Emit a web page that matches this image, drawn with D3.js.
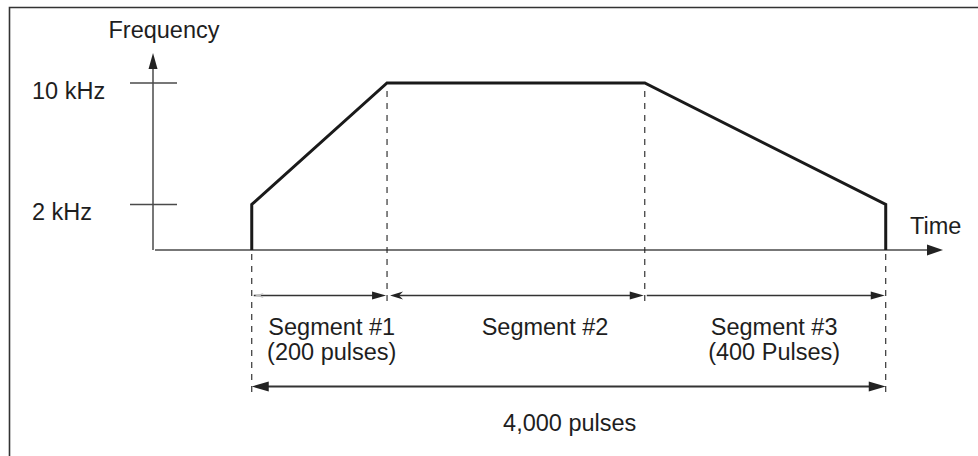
<!DOCTYPE html>
<html>
<head>
<meta charset="utf-8">
<script src="https://cdn.jsdelivr.net/npm/d3@7"></script>
<style>
  html, body { margin: 0; padding: 0; background: #fff; }
  svg { display: block; }
  text { font-family: "Liberation Sans", Arial, Helvetica, sans-serif; fill: #1e1e1e; }
</style>
</head>
<body>
<svg id="chart" width="978" height="456"></svg>
<script>
// Trapezoidal speed profile: breakpoints on the time axis (schematic units) and output frequency (kHz)
const profileTimes = [1.0, 2.37, 4.98, 7.42];
const profileFreqs = [2, 10, 10, 2];

// Frequency axis ticks
const freqTicks = [2, 10];
const freqTickLabels = ["2 kHz", "10 kHz"];

// Segments of the move
const segmentNames = ["Segment #1", "Segment #2", "Segment #3"];
const segmentNotes = ["(200 pulses)", "", "(400 Pulses)"];
const segmentStart = [1.0, 2.37, 4.98];
const segmentEnd = [2.37, 4.98, 7.42];
const segmentLabelAt = [1.81, 3.97, 6.29];

// Whole move
const totalLabel = "4,000 pulses";
const totalLabelAt = 4.22;

const svg = d3.select("#chart");
const ink = "#222";
const axisInk = "#4a4a4a";
const fontSize = 23.5;

// Frame
svg.append("path")
  .attr("d", "M9.5,470 V7.5 H990")
  .attr("fill", "none").attr("stroke", "#333").attr("stroke-width", 1.6);

// Scales: time runs left to right; the frequency axis is schematic (break between 0 and 2 kHz)
const x = d3.scaleLinear().domain([0, 8]).range([153, 943]);
const y = d3.scaleLinear().domain([0, 2, 10]).range([250, 204.5, 83]);

const yAxisTip = 53;
const segArrowY = 295.5;
const totalArrowY = 386.5;

// Filled arrowhead helper: tip at (tx, ty), pointing in direction dir (+1 right, -1 left, "up")
function head(tx, ty, dir, len, hw, notch = 0) {
  if (dir === "up") {
    return `M${tx},${ty} L${tx - hw},${ty + len} L${tx},${ty + len - notch} L${tx + hw},${ty + len} Z`;
  }
  const bx = tx - dir * len;
  const nx = tx - dir * (len - notch);
  return `M${tx},${ty} L${bx},${ty - hw} L${nx},${ty} L${bx},${ty + hw} Z`;
}

// Axes
const axes = svg.append("g").attr("stroke", axisInk).attr("stroke-width", 1.5).attr("fill", "none");
axes.append("line")
  .attr("x1", x(0)).attr("x2", x(0))
  .attr("y1", y(0)).attr("y2", yAxisTip + 14);
axes.append("line")
  .attr("x1", x(0) + 2).attr("x2", x(8) - 14)
  .attr("y1", y(0)).attr("y2", y(0));
svg.append("path").attr("d", head(x(0), yAxisTip, "up", 16, 4.5)).attr("fill", ink);
svg.append("path").attr("d", head(x(8), y(0), 1, 16, 5.5)).attr("fill", ink);

// Frequency ticks and labels
freqTicks.forEach((f, i) => {
  axes.append("line")
    .attr("x1", x(0) - 23).attr("x2", x(0) + 24)
    .attr("y1", y(f)).attr("y2", y(f));
  svg.append("text")
    .attr("x", 32).attr("y", y(f) + 15.5)
    .attr("font-size", fontSize)
    .text(freqTickLabels[i]);
});

svg.append("text")
  .attr("x", x(0) + 11).attr("y", 38)
  .attr("text-anchor", "middle").attr("font-size", fontSize)
  .text("Frequency");
svg.append("text")
  .attr("x", 910).attr("y", 234)
  .attr("font-size", fontSize)
  .text("Time");

// Dashed guides from the profile breakpoints
const guides = svg.append("g").attr("stroke", ink).attr("stroke-width", 1.1)
  .attr("stroke-dasharray", "6,6").attr("fill", "none");
profileTimes.forEach((t, i) => {
  const outer = i === 0 || i === profileTimes.length - 1;
  guides.append("line")
    .attr("x1", x(t)).attr("x2", x(t))
    .attr("y1", outer ? y(0) + 4 : y(profileFreqs[i]) + 8)
    .attr("y2", outer ? totalArrowY + 6 : segArrowY + 6);
});

// Frequency profile
const pts = [[profileTimes[0], 0]]
  .concat(profileTimes.map((t, i) => [t, profileFreqs[i]]))
  .concat([[profileTimes[profileTimes.length - 1], 0]]);
svg.append("path")
  .attr("d", d3.line().x(d => x(d[0])).y(d => y(d[1]))(pts))
  .attr("fill", "none").attr("stroke", "#1a1a1a").attr("stroke-width", 3)
  .attr("stroke-linejoin", "miter");

// Segment dimension arrows
const segG = svg.append("g");
segmentNames.forEach((name, i) => {
  const x0 = x(segmentStart[i]), x1 = x(segmentEnd[i]);
  const lead = i === 1 ? 12 : 2;
  segG.append("line")
    .attr("x1", x0 + lead).attr("x2", x1 - 12)
    .attr("y1", segArrowY).attr("y2", segArrowY)
    .attr("stroke", "#333").attr("stroke-width", 1.4);
  segG.append("path").attr("d", head(x1 - 1, segArrowY, 1, 14, 4)).attr("fill", ink);
  if (i === 0) {
    // faint start mark
    segG.append("path").attr("d", head(x0 + 3, segArrowY, -1, 9, 2.5, 3))
      .attr("fill", "#bbb");
  }
  if (i === 1) {
    segG.append("path").attr("d", head(x0 + 3, segArrowY, -1, 13, 4, 4)).attr("fill", ink);
  }
  const tx = x(segmentLabelAt[i]);
  segG.append("text")
    .attr("x", tx).attr("y", 335)
    .attr("text-anchor", "middle").attr("font-size", fontSize)
    .text(name);
  if (segmentNotes[i]) {
    segG.append("text")
      .attr("x", tx).attr("y", 359.5)
      .attr("text-anchor", "middle").attr("font-size", fontSize)
      .text(segmentNotes[i]);
  }
});

// Total move arrow
const tx0 = x(profileTimes[0]), tx1 = x(profileTimes[profileTimes.length - 1]);
svg.append("line")
  .attr("x1", tx0 + 12).attr("x2", tx1 - 12)
  .attr("y1", totalArrowY).attr("y2", totalArrowY)
  .attr("stroke", "#333").attr("stroke-width", 1.8);
svg.append("path").attr("d", head(tx0, totalArrowY, -1, 17, 5)).attr("fill", ink);
svg.append("path").attr("d", head(tx1, totalArrowY, 1, 17, 5)).attr("fill", ink);
svg.append("text")
  .attr("x", x(totalLabelAt)).attr("y", 431)
  .attr("text-anchor", "middle").attr("font-size", fontSize)
  .text(totalLabel);
</script>
</body>
</html>
